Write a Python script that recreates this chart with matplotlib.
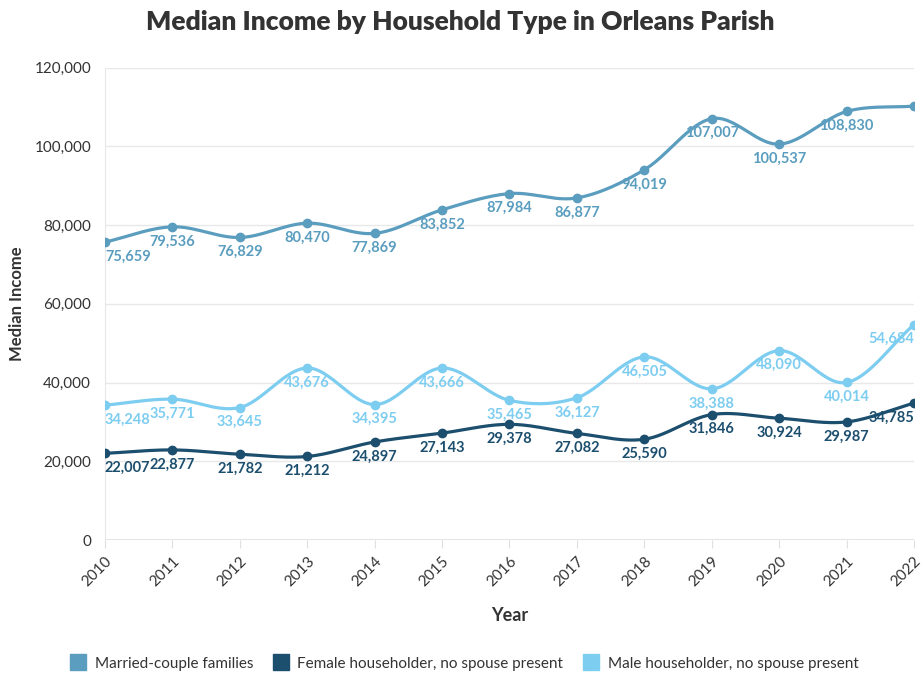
import matplotlib.pyplot as plt
import numpy as np
from matplotlib.lines import Line2D

plt.rcParams['font.family'] = ['Lato', 'DejaVu Sans']

years = [2010, 2011, 2012, 2013, 2014, 2015, 2016, 2017, 2018, 2019, 2020, 2021, 2022]
married = [75659, 79536, 76829, 80470, 77869, 83852, 87984, 86877, 94019, 107007, 100537, 108830, 110200]
female = [22007, 22877, 21782, 21212, 24897, 27143, 29378, 27082, 25590, 31846, 30924, 29987, 34785]
male = [34248, 35771, 33645, 43676, 34395, 43666, 35465, 36127, 46505, 38388, 48090, 40014, 54684]
series_names = ["Married-couple families", "Female householder, no spouse present",
                "Male householder, no spouse present"]
colors = ["#5a9dbf", "#1c4e6e", "#7dcdf1"]


def spline(x, y, n=30):
    # catmull-rom style smoothing between the data points
    x = np.asarray(x, float)
    y = np.asarray(y, float)
    m = np.zeros_like(y)
    m[1:-1] = (y[2:] - y[:-2]) / (x[2:] - x[:-2])
    m[0] = (y[1] - y[0]) / (x[1] - x[0])
    m[-1] = (y[-1] - y[-2]) / (x[-1] - x[-2])
    xs, ys = [], []
    for i in range(len(x) - 1):
        h = x[i + 1] - x[i]
        t = np.linspace(0, 1, n)
        h00 = 2 * t**3 - 3 * t**2 + 1
        h10 = t**3 - 2 * t**2 + t
        h01 = -2 * t**3 + 3 * t**2
        h11 = t**3 - t**2
        xs.append(x[i] + t * h)
        ys.append(h00 * y[i] + h10 * h * m[i] + h01 * y[i + 1] + h11 * h * m[i + 1])
    return np.concatenate(xs), np.concatenate(ys)


fig = plt.figure(figsize=(9.21, 6.75), dpi=100)
ax = fig.add_axes([105 / 921, 0.2, (914 - 105) / 921, 0.7])

for vals, c, name in zip([married, female, male], colors, series_names):
    sx, sy = spline(years, vals)
    ax.plot(sx, sy, color=c, lw=2.3, solid_capstyle='round', zorder=3)
    ax.plot(years, vals, 'o', color=c, ms=6, zorder=4)
    for yr, v in zip(years, vals):
        if name.startswith("Married") and yr == 2022:
            continue
        # end labels are kept inside the plot area
        ha = 'center'
        if yr == years[0]:
            ha = 'left'
        elif yr == years[-1]:
            ha = 'right'
        ax.annotate(f"{v:,}", (yr, v), xytext=(0, -10.5), textcoords='offset points',
                    ha=ha, va='center', fontsize=10.5, fontweight='bold', color=c,
                    zorder=5)

ax.set_xlim(2010, 2022)
ax.set_ylim(0, 120000)
ax.set_yticks(range(0, 120001, 20000))
ax.set_yticklabels([f"{v:,}" for v in range(0, 120001, 20000)])
ax.set_xticks(years)
ax.set_xticklabels([str(y) for y in years], rotation=45, ha='right', rotation_mode='anchor')
ax.grid(axis='y', color='#e8e8e8', lw=1)
ax.set_axisbelow(True)
for s in ['top', 'right', 'bottom']:
    ax.spines[s].set_visible(False)
ax.spines['left'].set_color('#e8e8e8')
ax.axhline(0, color='#e0e0e0', lw=1.2, zorder=1)
ax.tick_params(axis='y', length=0, labelsize=11, colors='#333333', pad=10)
ax.tick_params(axis='x', length=6, color='#e0e0e0', labelsize=11, labelcolor='#333333', pad=4)

ax.set_xlabel("Year", fontsize=13, fontweight='bold', color='#333333', labelpad=13)
ax.set_ylabel("Median Income", fontsize=12, fontweight='bold', color='#333333', labelpad=7)
fig.suptitle("Median Income by Household Type in Orleans Parish", x=0.5, y=0.985,
             fontsize=19, fontweight='heavy', color='#333333')

handles = [Line2D([], [], marker='s', ls='', color=c, ms=11) for c in colors]
fig.legend(handles, series_names, loc='center', bbox_to_anchor=(0.5, 0.017), ncol=3,
           frameon=False, fontsize=11, handletextpad=0.1, columnspacing=0.8,
           labelcolor='#333333')

fig.savefig("out.png", dpi=100)
